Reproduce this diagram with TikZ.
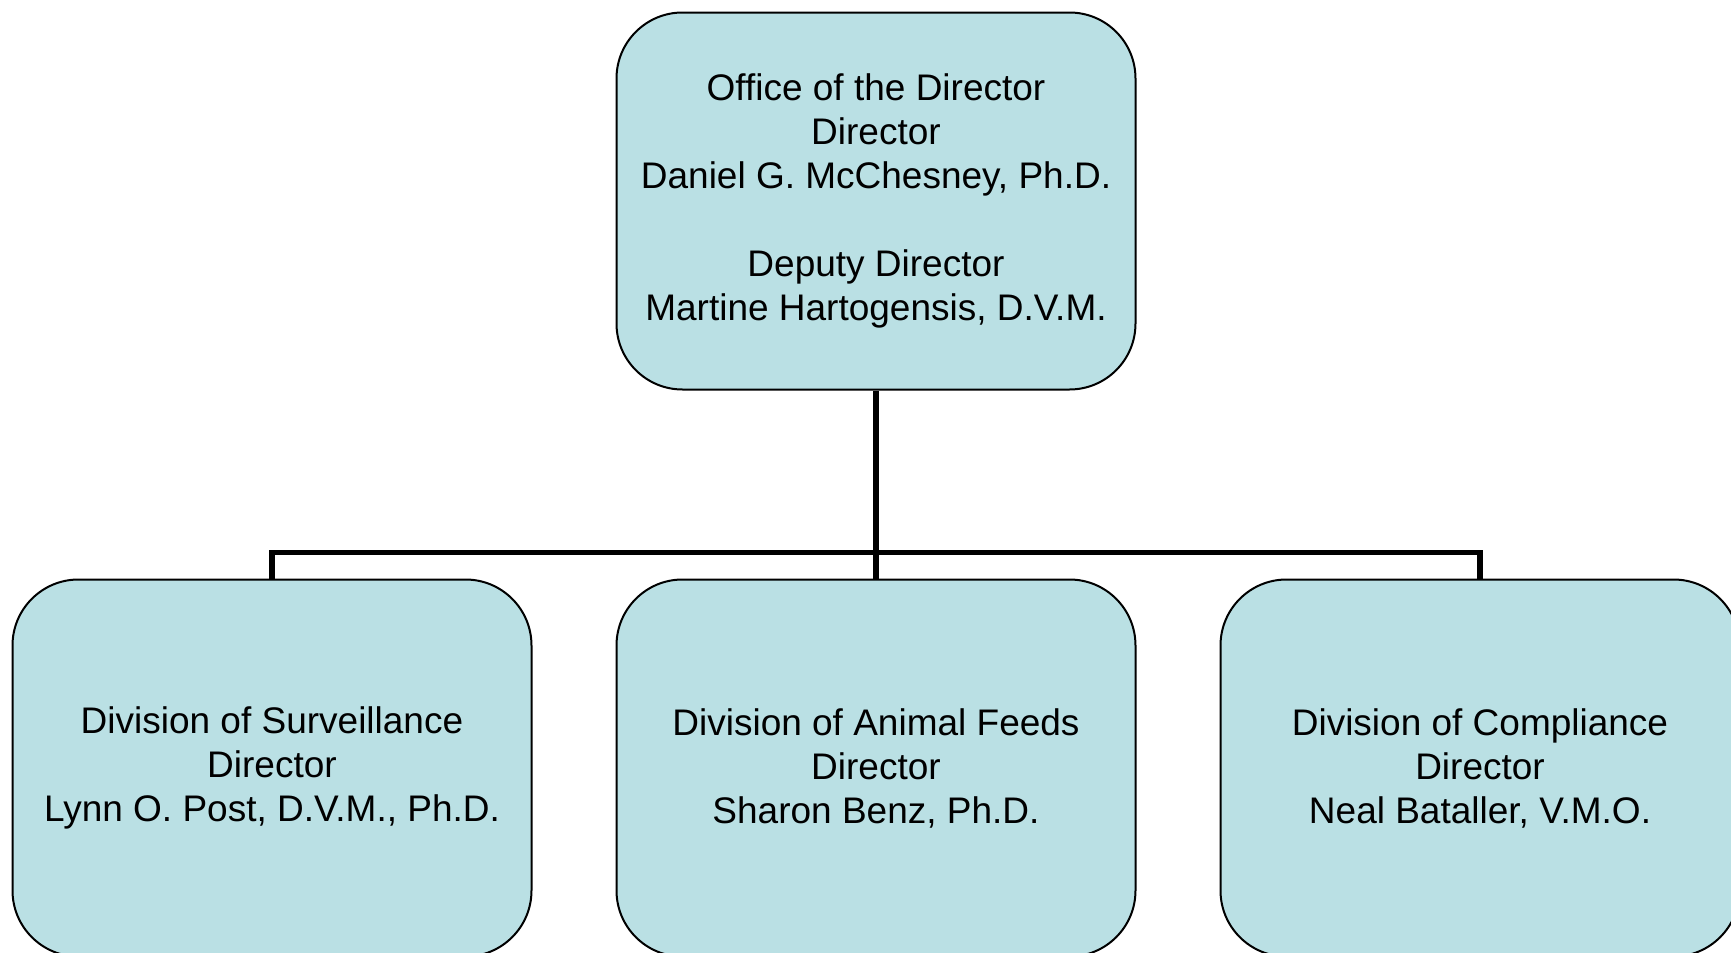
\documentclass[tikz,border=0pt]{standalone}
\usepackage{fontspec}
\setmainfont{Liberation Sans}
\usetikzlibrary{positioning}
\definecolor{boxblue}{RGB}{186,224,228}

\begin{document}
\begin{tikzpicture}[x=0.5pt,y=-0.5pt,
    unitbox/.style={draw=black,line width=1pt,fill=boxblue,rounded corners=33pt,
        minimum width=259.5pt,minimum height=188.5pt,inner sep=0pt,align=center,
        font=\fontsize{18.5}{22}\selectfont},
    link/.style={line width=2.8pt}]
    \useasboundingbox (0,0) rectangle (1731,953);
    \node[unitbox] (dir) at (876,201) {Office of the Director\\Director\\Daniel G. McChesney, Ph.D.\\[22pt]Deputy Director\\Martine Hartogensis, D.V.M.};
    \node[unitbox,below=94pt of dir] (feeds) {Division of Animal Feeds\\Director\\Sharon Benz, Ph.D.};
    \node[unitbox,left=41.5pt of feeds] (surv) {Division of Surveillance\\Director\\Lynn O. Post, D.V.M., Ph.D.};
    \node[unitbox,right=41.5pt of feeds] (comp) {Division of Compliance\\Director\\Neal Bataller, V.M.O.};
    \coordinate[below=81pt of dir.south] (split);
    \draw[link] (dir.south) -- (split) -- (feeds.north);
    \draw[link] (surv.north) |- (split) -| (comp.north);
\end{tikzpicture}
\end{document}
